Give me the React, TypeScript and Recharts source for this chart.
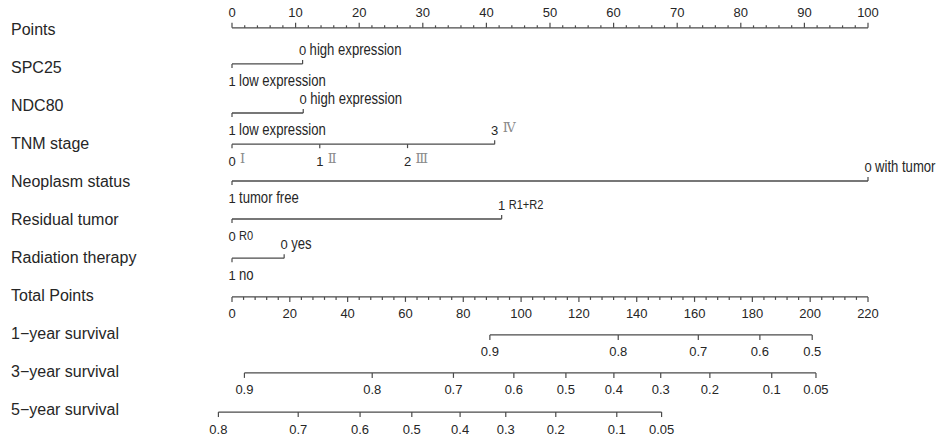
import React from 'react';
import { ScatterChart, Scatter, XAxis, YAxis } from 'recharts';

// row titles, top to bottom
const rowNames = [
  'Points',
  'SPC25',
  'NDC80',
  'TNM stage',
  'Neoplasm status',
  'Residual tumor',
  'Radiation therapy',
  'Total Points',
  '1−year survival',
  '3−year survival',
  '5−year survival',
];

// Points scale (0-100) and Total Points scale (0-220)
const pointLabels = [0, 10, 20, 30, 40, 50, 60, 70, 80, 90, 100];
const pointMinorStep = 2;
const totalLabels = [0, 20, 40, 60, 80, 100, 120, 140, 160, 180, 200, 220];
const totalMinorStep = 4;

// categorical predictors: code, level name, points
const spc25 = [
  { code: '1', level: 'low expression', pts: 0 },
  { code: '0', level: 'high expression', pts: 11.1 },
];
const ndc80 = [
  { code: '1', level: 'low expression', pts: 0 },
  { code: '0', level: 'high expression', pts: 11.2 },
];
const tnmStage = [
  { code: '0', level: 'Ⅰ', pts: 0 },
  { code: '1', level: 'Ⅱ', pts: 13.8 },
  { code: '2', level: 'Ⅲ', pts: 27.6 },
  { code: '3', level: 'Ⅳ', pts: 41.3 },
];
const neoplasmStatus = [
  { code: '1', level: 'tumor free', pts: 0 },
  { code: '0', level: 'with tumor', pts: 100 },
];
const residualTumor = [
  { code: '0', level: 'R0', pts: 0 },
  { code: '1', level: 'R1+R2', pts: 42.4 },
];
const radiationTherapy = [
  { code: '1', level: 'no', pts: 0 },
  { code: '0', level: 'yes', pts: 8.2 },
];

// survival probabilities and the total points where they sit
const surv1Labels = ['0.9', '0.8', '0.7', '0.6', '0.5'];
const surv1Total = [89.2, 133.6, 161.3, 182.6, 200.7];
const surv3Labels = ['0.9', '0.8', '0.7', '0.6', '0.5', '0.4', '0.3', '0.2', '0.1', '0.05'];
const surv3Total = [4.3, 48.5, 76.6, 97.5, 115.5, 132.1, 148.3, 165.3, 186.7, 202.0];
const surv5Labels = ['0.8', '0.7', '0.6', '0.5', '0.4', '0.3', '0.2', '0.1', '0.05'];
const surv5Total = [-4.7, 22.9, 44.3, 62.2, 78.9, 94.7, 112.0, 133.1, 148.6];

// layout
const lineRow = [-0.03, 0.92, 2.21, 3.03, 4.0, 5.0, 6.03, 7.05, 8.05, 9.05, 10.08];
const LINE = '#4a4a4a';
const TEXT = '#262626';
const FONT = '"Liberation Sans", Arial, sans-serif';

const steps = (max: number, step: number) =>
  Array.from({ length: Math.round(max / step) + 1 }, (_, i) => Math.round(i * step * 100) / 100);

const pointsAxis = steps(100, pointMinorStep).map((v) => ({
  x: v,
  y: lineRow[0],
  major: pointLabels.includes(v),
  label: String(v),
}));
const totalAxis = steps(220, totalMinorStep).map((v) => ({
  x: v,
  y: lineRow[7],
  major: totalLabels.includes(v),
  label: String(v),
}));

const catRow = (levels: { code: string; level: string; pts: number }[], row: number) => {
  const top = Math.max(...levels.map((l) => l.pts));
  return levels.map((l) => ({ x: l.pts, y: lineRow[row], code: l.code, level: l.level, above: l.pts === top }));
};

const survRow = (labels: string[], totals: number[], row: number) =>
  totals.map((t, i) => ({ x: t, y: lineRow[row], label: labels[i] }));

const PointsTick = (p: any) => {
  const { cx, cy, payload } = p;
  return (
    <g>
      <line x1={cx} x2={cx} y1={cy} y2={cy - (payload.major ? 5 : 2.5)} stroke={LINE} strokeWidth={1.2} />
      {payload.major && (
        <text x={cx} y={cy - 15} dy="0.35em" textAnchor="middle" fontSize={13} fontFamily={FONT} fill={TEXT}>
          {payload.label}
        </text>
      )}
    </g>
  );
};

const TotalTick = (p: any) => {
  const { cx, cy, payload } = p;
  return (
    <g>
      <line x1={cx} x2={cx} y1={cy} y2={cy + (payload.major ? 5 : 3)} stroke={LINE} strokeWidth={1.2} />
      {payload.major && (
        <text x={cx} y={cy + 17} dy="0.35em" textAnchor="middle" fontSize={13} fontFamily={FONT} fill={TEXT}>
          {payload.label}
        </text>
      )}
    </g>
  );
};

const SurvTick = (p: any) => {
  const { cx, cy, payload } = p;
  return (
    <g>
      <line x1={cx} x2={cx} y1={cy} y2={cy + 5} stroke={LINE} strokeWidth={1.2} />
      <text x={cx} y={cy + 17} dy="0.35em" textAnchor="middle" fontSize={13} fontFamily={FONT} fill={TEXT}>
        {payload.label}
      </text>
    </g>
  );
};

// level names look condensed in the original, so squeeze them horizontally
const makeCatTick = (levelSize: number, squeeze = 0.82, levelFamily = FONT, levelColor = TEXT, levelRise = 0, gap = 7) => (p: any) => {
  const { cx, cy, payload } = p;
  const up = payload.above;
  const ty = up ? cy - 15 : cy + 16;
  return (
    <g>
      <line x1={cx} x2={cx} y1={cy} y2={up ? cy - 4 : cy + 4} stroke={LINE} strokeWidth={1.2} />
      <text x={cx} y={ty + 1} dy="0.35em" textAnchor="middle" fontSize={13} fontFamily={FONT} fill={TEXT}>
        {payload.code}
      </text>
      <text
        transform={`translate(${cx + gap},${ty - levelRise}) scale(${squeeze},1)`}
        x={0}
        y={0}
        dy="0.35em"
        textAnchor="start"
        fontSize={levelSize}
        fontFamily={levelFamily}
        fill={levelColor}
      >
        {payload.level}
      </text>
    </g>
  );
};

const RowLabel = (p: any) => (
  <text x={11} y={p.y} dy="0.35em" textAnchor="start" fontSize={16} fontFamily={FONT} fill={TEXT}>
    {rowNames[p.payload.value]}
  </text>
);

const lineStyle = { stroke: LINE, strokeWidth: 1.3, fill: 'none' };

export default function App() {
  const rows = rowNames.map((_, i) => i);
  return (
    <div style={{ width: 939, height: 440, background: '#fff' }}>
      <style>{'body{margin:0}'}</style>
      <ScatterChart width={939} height={440} margin={{ top: 10, right: 7.4, bottom: 12, left: 8.4 }}>
        <XAxis xAxisId="pts" type="number" dataKey="x" domain={[-10, 110]} hide />
        <XAxis xAxisId="tp" type="number" dataKey="x" domain={[-22, 242]} hide />
        <YAxis
          type="number"
          dataKey="y"
          domain={[-0.5, 10.5]}
          reversed
          ticks={rows}
          interval={0}
          width={160}
          axisLine={false}
          tickLine={false}
          tick={RowLabel}
        />
        <Scatter xAxisId="pts" data={pointsAxis} line={lineStyle} shape={PointsTick} isAnimationActive={false} />
        <Scatter xAxisId="pts" data={catRow(spc25, 1)} line={lineStyle} shape={makeCatTick(16)} isAnimationActive={false} />
        <Scatter xAxisId="pts" data={catRow(ndc80, 2)} line={lineStyle} shape={makeCatTick(16)} isAnimationActive={false} />
        <Scatter
          xAxisId="pts"
          data={catRow(tnmStage, 3)}
          line={lineStyle}
          shape={makeCatTick(13, 1, '"DejaVu Serif", serif', '#8a8a8a', 2, 8)}
          isAnimationActive={false}
        />
        <Scatter xAxisId="pts" data={catRow(neoplasmStatus, 4)} line={lineStyle} shape={makeCatTick(16)} isAnimationActive={false} />
        <Scatter xAxisId="pts" data={catRow(residualTumor, 5)} line={lineStyle} shape={makeCatTick(13.5)} isAnimationActive={false} />
        <Scatter xAxisId="pts" data={catRow(radiationTherapy, 6)} line={lineStyle} shape={makeCatTick(16)} isAnimationActive={false} />
        <Scatter xAxisId="tp" data={totalAxis} line={lineStyle} shape={TotalTick} isAnimationActive={false} />
        <Scatter xAxisId="tp" data={survRow(surv1Labels, surv1Total, 8)} line={lineStyle} shape={SurvTick} isAnimationActive={false} />
        <Scatter xAxisId="tp" data={survRow(surv3Labels, surv3Total, 9)} line={lineStyle} shape={SurvTick} isAnimationActive={false} />
        <Scatter xAxisId="tp" data={survRow(surv5Labels, surv5Total, 10)} line={lineStyle} shape={SurvTick} isAnimationActive={false} />
      </ScatterChart>
    </div>
  );
}
